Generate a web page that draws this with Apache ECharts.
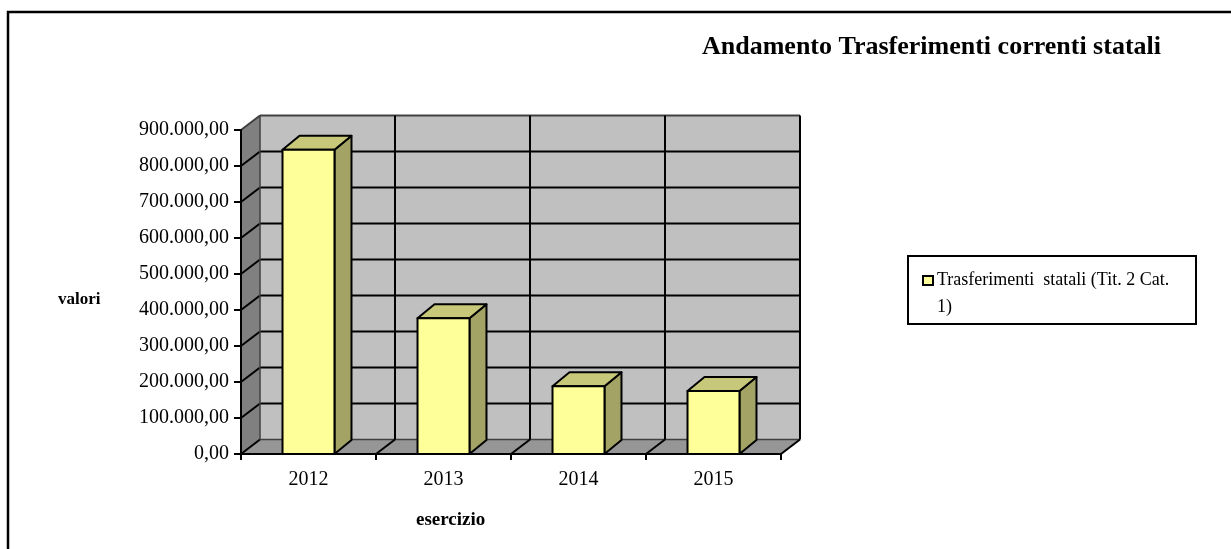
<!DOCTYPE html>
<html>
<head>
<meta charset="utf-8">
<style>
  html, body { margin: 0; padding: 0; background: #ffffff; }
  #chart { width: 1231px; height: 549px; }
</style>
<script src="https://cdn.jsdelivr.net/npm/echarts@6/dist/echarts.min.js"></script>
</head>
<body>
<div id="chart"></div>
<script>
// Categories and values
const years = ['2012', '2013', '2014', '2015'];
const trasferimenti = [845000, 377000, 188000, 175000];
const seriesName = 'Trasferimenti  statali (Tit. 2 Cat. 1)';
const axisMin = 0;
const axisMax = 900000;
const axisStep = 100000;

// Depth offsets used for the pseudo-3D room and the columns
const WALL_DX = 19, WALL_DY = -14.5;
const BAR_DX = 17, BAR_DY = -14;
const FONT = '"Liberation Serif", "Times New Roman", serif';

function fmtIt(v) {
  const s = Math.round(v).toString().replace(/\B(?=(\d{3})+(?!\d))/g, '.');
  return s + ',00';
}

const chart = echarts.init(document.getElementById('chart'));

// Back wall, left wall, floor and gridlines
function renderRoom(params, api) {
  const cs = params.coordSys;
  const x = cs.x, y = cs.y, w = cs.width, h = cs.height;
  const children = [];
  const line = (x1, y1, x2, y2, color, lw) => ({
    type: 'line',
    shape: { x1, y1, x2, y2 },
    style: { stroke: color || '#000', lineWidth: lw || 2 }
  });
  // back wall
  children.push({ type: 'rect', shape: { x: x + WALL_DX, y: y + WALL_DY, width: w, height: h },
    style: { fill: '#C0C0C0', stroke: null } });
  // left wall
  children.push({ type: 'polygon', shape: { points: [[x, y], [x + WALL_DX, y + WALL_DY], [x + WALL_DX, y + h + WALL_DY], [x, y + h]] },
    style: { fill: '#808080', stroke: null } });
  // floor
  children.push({ type: 'polygon', shape: { points: [[x, y + h], [x + WALL_DX, y + h + WALL_DY], [x + w + WALL_DX, y + h + WALL_DY], [x + w, y + h]] },
    style: { fill: '#969696', stroke: null } });
  // horizontal gridlines on back wall + diagonals on left wall
  for (let v = axisMin; v <= axisMax; v += axisStep) {
    const yy = api.coord([0, v])[1];
    const col = v === axisMax ? '#404040' : '#000';
    children.push(line(x + WALL_DX, yy + WALL_DY, x + w + WALL_DX, yy + WALL_DY, v === 0 ? '#404040' : col, v === 0 ? 1.5 : 2));
    children.push(line(x, yy, x + WALL_DX, yy + WALL_DY, col, 2));
  }
  // vertical gridlines on back wall + diagonals on floor at category boundaries
  const bw = api.size([1, 0])[0];
  for (let i = 0; i <= years.length; i++) {
    const xx = x + i * bw;
    if (i > 0) {
      children.push(line(xx + WALL_DX, y + WALL_DY, xx + WALL_DX, y + h + WALL_DY, '#000', 2));
      children.push(line(xx, y + h, xx + WALL_DX, y + h + WALL_DY, '#000', 2));
    } else {
      children.push(line(xx + WALL_DX, y + WALL_DY, xx + WALL_DX, y + h + WALL_DY, '#404040', 1.5));
    }
  }
  return { type: 'group', children };
}

// Columns drawn as front face, top face and side face
function renderBar(params, api) {
  const idx = api.value(0);
  const v = api.value(1);
  const top = api.coord([idx, v]);
  const base = api.coord([idx, 0]);
  const bw = api.size([1, 0])[0] * 0.385;
  const x0 = top[0] - bw / 2, x1 = top[0] + bw / 2;
  const yt = top[1], yb = base[1];
  const stroke = { stroke: '#000', lineWidth: 2, lineJoin: 'round' };
  return {
    type: 'group',
    children: [
      { type: 'polygon', shape: { points: [[x1, yt], [x1 + BAR_DX, yt + BAR_DY], [x1 + BAR_DX, yb + BAR_DY], [x1, yb]] },
        style: Object.assign({ fill: '#A3A365' }, stroke) },
      { type: 'polygon', shape: { points: [[x0, yt], [x0 + BAR_DX, yt + BAR_DY], [x1 + BAR_DX, yt + BAR_DY], [x1, yt]] },
        style: Object.assign({ fill: '#C8C87A' }, stroke) },
      { type: 'rect', shape: { x: x0, y: yt, width: bw, height: yb - yt },
        style: Object.assign({ fill: '#FFFF99' }, stroke) }
    ]
  };
}

const option = {
  animation: false,
  backgroundColor: '#ffffff',
  title: {
    text: 'Andamento Trasferimenti correnti statali',
    left: 697,
    top: 29,
    textStyle: { fontFamily: FONT, fontWeight: 'bold', fontSize: 26, color: '#000' }
  },
  legend: {
    data: [seriesName],
    left: 922,
    top: 240,
    padding: 0,
    icon: 'rect',
    itemWidth: 10,
    itemHeight: 9,
    itemGap: 4,
    itemStyle: { color: '#FFFF99', borderColor: '#000', borderWidth: 2 },
    // a blank leading line keeps the marker level with the first line of the wrapped label
    formatter: name => '\n' + name,
    textStyle: { fontFamily: FONT, fontSize: 18, color: '#000', width: 244, overflow: 'break', lineHeight: 27, padding: [0, 0, 0, -1] },
    selectedMode: false
  },
  grid: { left: 241, top: 130, right: 450, bottom: 95 },
  xAxis: {
    type: 'category',
    data: years,
    z: 10,
    boundaryGap: true,
    axisLine: { lineStyle: { color: '#000', width: 2 } },
    axisTick: { show: true, length: 6, inside: false, lineStyle: { color: '#000', width: 2 } },
    axisLabel: { fontFamily: FONT, fontSize: 20, color: '#000', margin: 16 },
    splitLine: { show: false }
  },
  yAxis: {
    type: 'value',
    min: axisMin,
    max: axisMax,
    interval: axisStep,
    z: 10,
    axisLine: { show: true, lineStyle: { color: '#000', width: 2 } },
    axisTick: { show: true, length: 7, lineStyle: { color: '#000', width: 2 } },
    axisLabel: { fontFamily: FONT, fontSize: 20, color: '#000', margin: 12, formatter: fmtIt },
    splitLine: { show: false }
  },
  graphic: [
    { type: 'rect', shape: { x: 8, y: 12, width: 1260, height: 600 },
      style: { fill: null, stroke: '#000', lineWidth: 2.5 }, z: 0, silent: true },
    { type: 'rect', shape: { x: 908, y: 256, width: 288, height: 68 },
      style: { fill: '#fff', stroke: '#000', lineWidth: 2 }, z: 0, silent: true },
    { type: 'text', left: 58, top: 291,
      style: { text: 'valori', font: 'bold 17px ' + FONT, fill: '#000' } },
    { type: 'text', left: 416, top: 511,
      style: { text: 'esercizio', font: 'bold 19px ' + FONT, fill: '#000' } }
  ],
  series: [
    {
      type: 'custom',
      name: 'room',
      silent: true,
      z: 1,
      renderItem: renderRoom,
      data: [[0, 0]]
    },
    {
      type: 'custom',
      name: seriesName,
      z: 3,
      itemStyle: { color: '#FFFF99' },
      renderItem: renderBar,
      encode: { x: 0, y: 1 },
      data: trasferimenti.map((v, i) => [i, v])
    }
  ]
};

chart.setOption(option);
</script>
</body>
</html>
